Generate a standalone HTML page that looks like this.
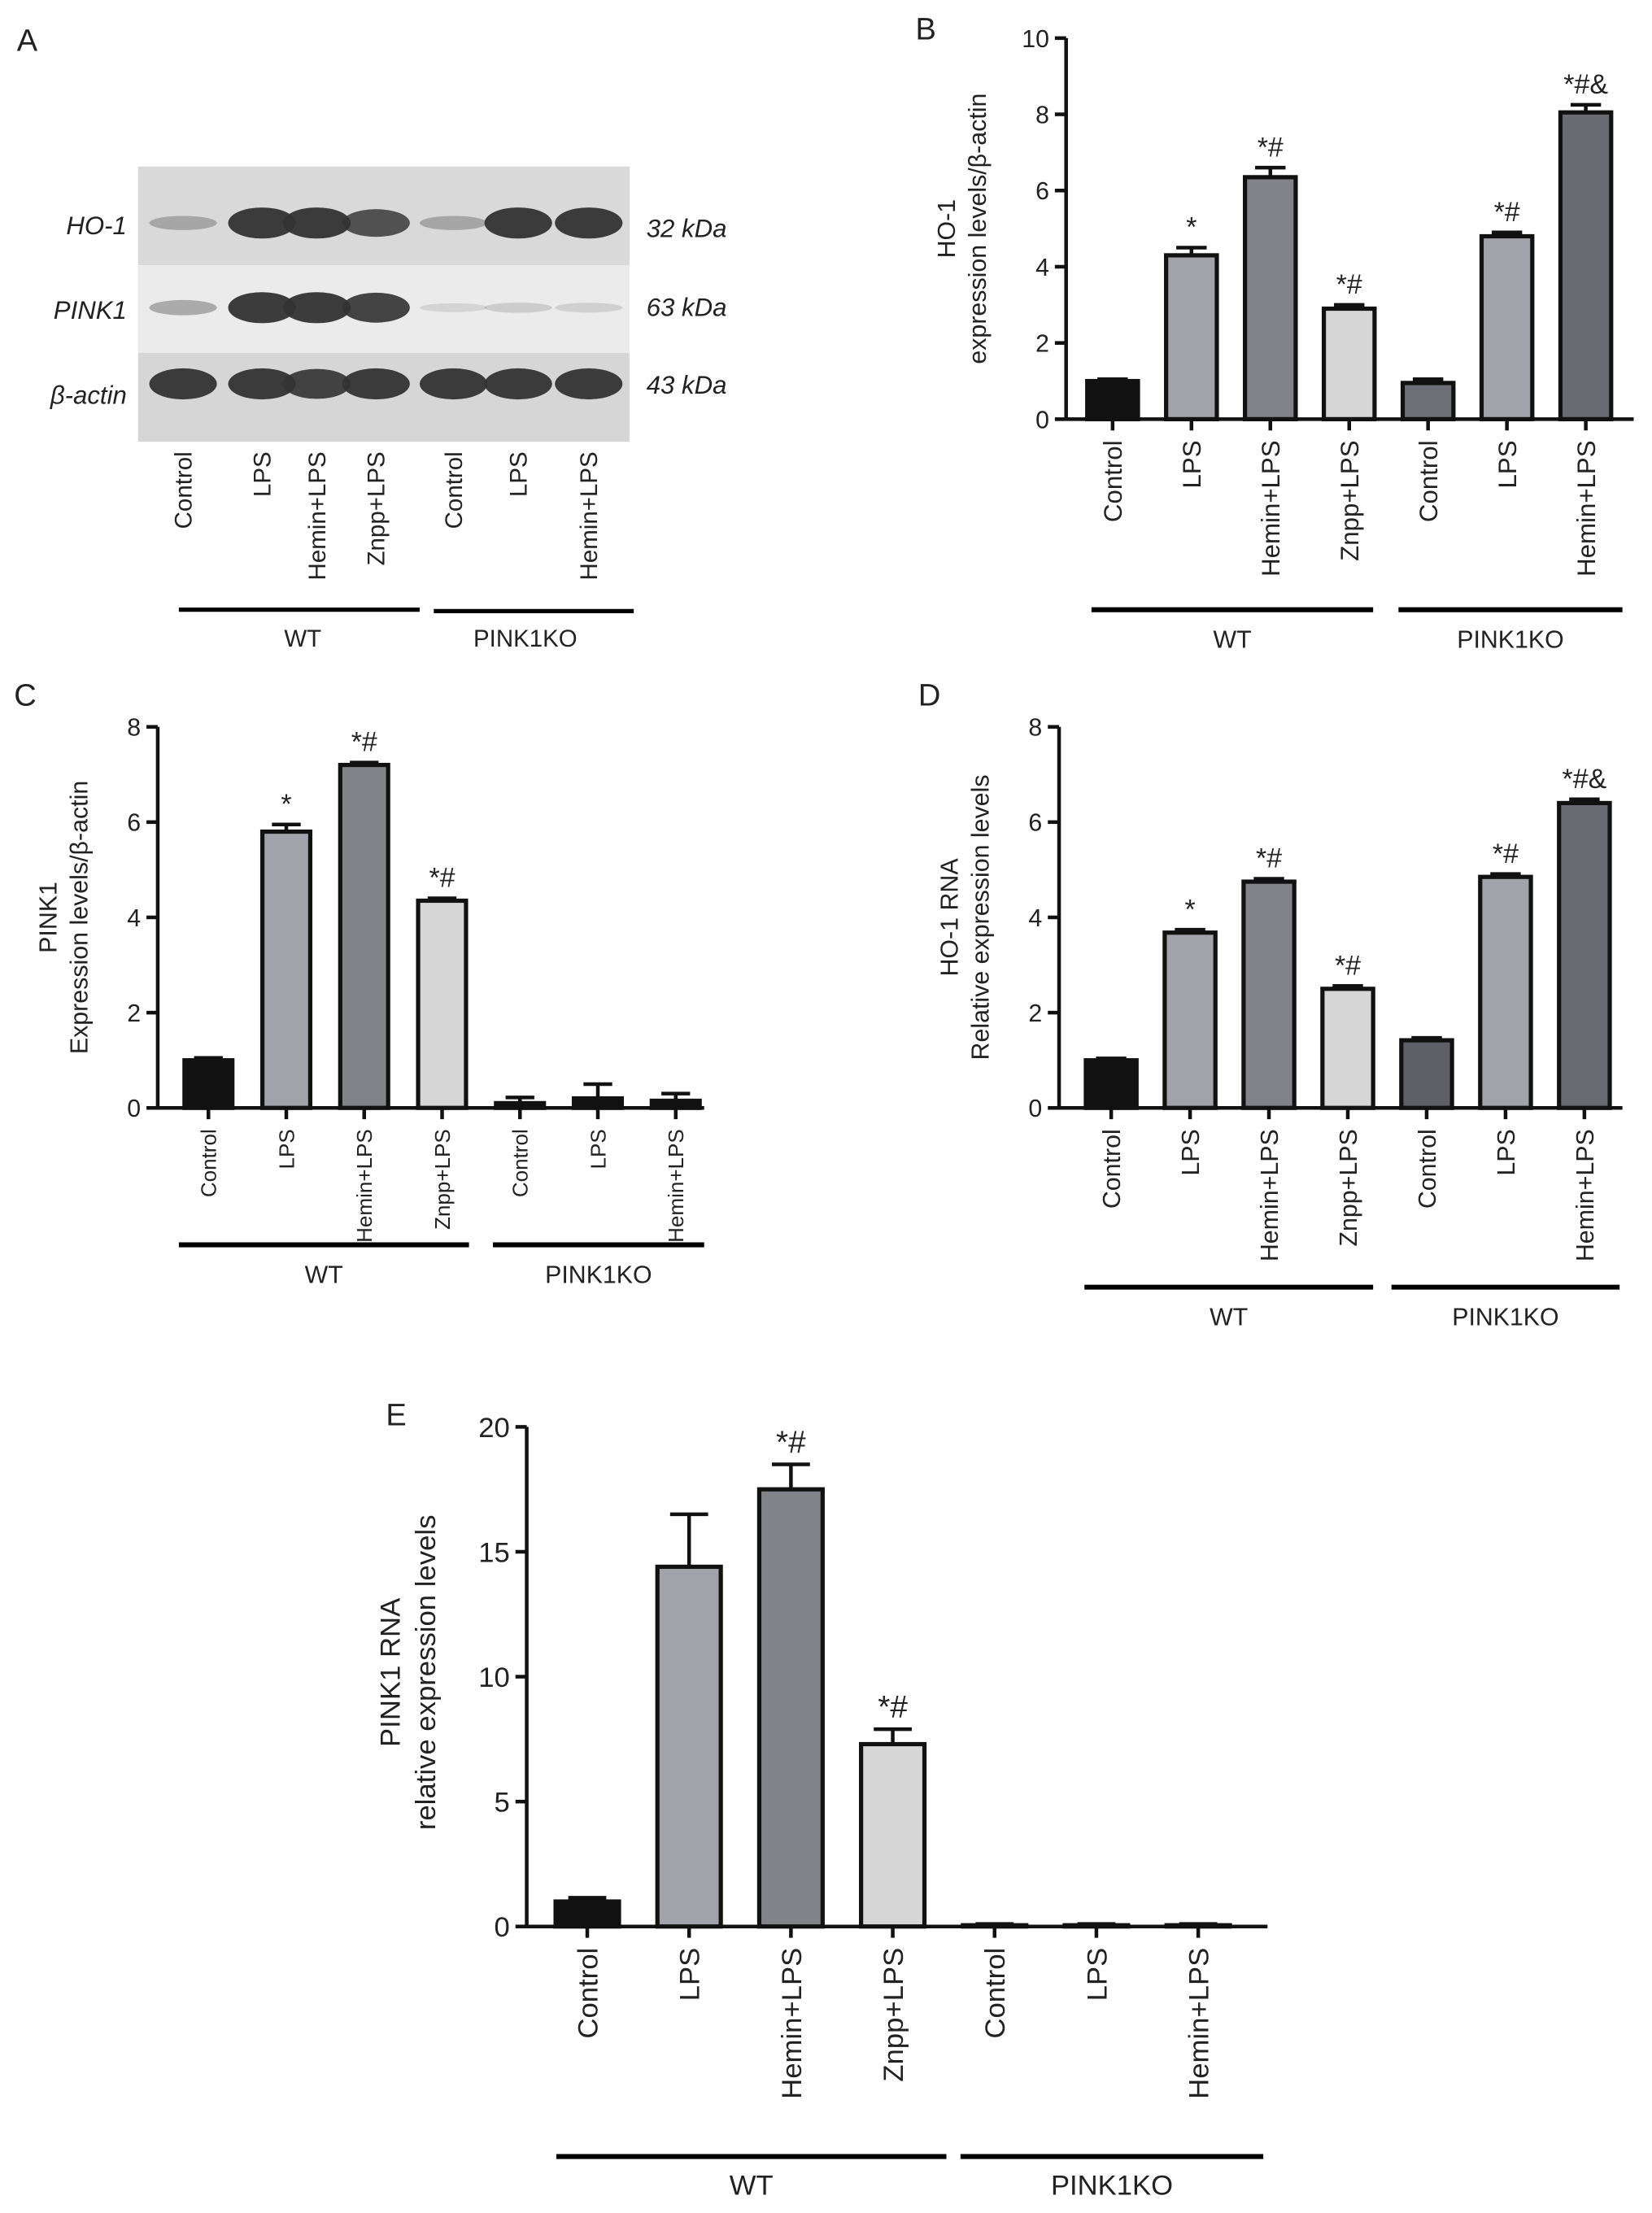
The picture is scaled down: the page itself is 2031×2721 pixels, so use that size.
<!DOCTYPE html>
<html><head><meta charset="utf-8">
<style>html,body{margin:0;padding:0;background:#fff;}svg{display:block;}text{font-family:"Liberation Sans",Arial,sans-serif;fill:#222;}</style>
</head><body>
<svg id="fig" width="2031" height="2721" viewBox="0 0 1173 1568" preserveAspectRatio="none" xmlns="http://www.w3.org/2000/svg">
<g id="panelA">
<text x="12" y="36" font-size="22">A</text>
<rect x="98" y="118" width="349" height="70" fill="#d9d9d9"/>
<rect x="98" y="188" width="349" height="62" fill="#ebebeb"/>
<rect x="98" y="250" width="349" height="63" fill="#d6d6d6"/>
<text x="90" y="166" font-size="18" font-style="italic" text-anchor="end">HO-1</text>
<text x="90" y="226" font-size="18" font-style="italic" text-anchor="end">PINK1</text>
<text x="90" y="286" font-size="18" font-style="italic" text-anchor="end">β-actin</text>
<text x="459" y="168" font-size="18" font-style="italic">32 kDa</text>
<text x="459" y="224" font-size="18" font-style="italic">63 kDa</text>
<text x="459" y="279" font-size="18" font-style="italic">43 kDa</text>
<g id="bands"></g>
<g id="laneLabels"></g>
<line x1="127" y1="432" x2="298" y2="432" stroke="#000" stroke-width="3"/>
<line x1="308" y1="433" x2="450" y2="433" stroke="#000" stroke-width="3"/>
<text x="215" y="458" font-size="17" text-anchor="middle">WT</text>
<text x="373" y="458" font-size="17" text-anchor="middle">PINK1KO</text>
</g>
<g id="charts"></g>
</svg>
<script>
const NS="http://www.w3.org/2000/svg";
const categories=["Control","LPS","Hemin+LPS","Znpp+LPS","Control","LPS","Hemin+LPS"];
const catsA=["Control","LPS","Hemin+LPS","Znpp+LPS","Control","LPS","Hemin+LPS"];
// Panel B
const valuesB=[1.0,4.3,6.35,2.9,0.95,4.8,8.05];
const errorsB=[0.05,0.2,0.25,0.1,0.1,0.1,0.2];
const annotB=["","*","*#","*#","","*#","*#&"];
const ticksB=[0,2,4,6,8,10];
// Panel C
const valuesC=[1.0,5.8,7.2,4.35,0.1,0.2,0.15];
const errorsC=[0.05,0.15,0.05,0.05,0.12,0.3,0.15];
const annotC=["","*","*#","*#","","",""];
const ticksC=[0,2,4,6,8];
// Panel D
const valuesD=[1.0,3.68,4.75,2.5,1.42,4.85,6.4];
const errorsD=[0.04,0.06,0.06,0.06,0.05,0.06,0.08];
const annotD=["","*","*#","*#","","*#","*#&"];
const ticksD=[0,2,4,6,8];
// Panel E
const valuesE=[1.0,14.4,17.5,7.3,0.05,0.05,0.05];
const errorsE=[0.15,2.1,1.0,0.6,0.05,0.05,0.05];
const annotE=["","","*#","*#","","",""];
const ticksE=[0,5,10,15,20];
// Blot band intensities (0-1)
const bandHO1=[0.25,1,1,0.85,0.25,1,1];
const bandPINK1=[0.3,1,1,0.95,0.02,0.08,0.06];
const bandActin=[1,1,0.95,1,1,1,1];

function el(tag,attrs,parent){const e=document.createElementNS(NS,tag);for(const k in attrs)e.setAttribute(k,attrs[k]);parent.appendChild(e);return e;}

const bands=document.getElementById('bands');
const laneX=[130,186,225,267,322,368,418];
[[bandHO1,158,'ho1'],[bandPINK1,218,'pink1'],[bandActin,272,'actin']].forEach(([arr,y,nm])=>{
 arr.forEach((v,i)=>{
  const b=el('ellipse',{cx:laneX[i],cy:y,rx:24,ry:3+v*8,fill:'#333',opacity:(0.1+v*0.85).toFixed(2)},bands);
  
  
 });
});
const ll=document.getElementById('laneLabels');
catsA.forEach((c,i)=>{
 const t=el('text',{x:0,y:0,'font-size':17,'text-anchor':'end',transform:`translate(${laneX[i]+6},320) rotate(-90)`},ll);
 t.textContent=c;
 
 
});

const colors=["#111","#a2a2aa","#828289","#d6d6d6","#6e6e76","#a2a2aa","#6a6a72"];
const colorsC=["#111","#a2a2aa","#828289","#d6d6d6","#111","#111","#111"];
const colorsD=["#111","#a2a2aa","#828289","#d6d6d6","#5f5f67","#a2a2aa","#6a6a72"];

function panel(cfg){
 const g=el('g',{},document.getElementById('charts'));
 
 
 const fs=cfg.fs, lfs=cfg.lfs||fs;
 const ys=v=>cfg.y0-(v-0)/(cfg.max)*(cfg.y0-cfg.yTop);
 const xs=i=>cfg.x0+i*cfg.step;
 const lab=el('text',{x:cfg.lx,y:cfg.ly,'font-size':22},g);lab.textContent=cfg.id.toUpperCase();
 
 
 const ya=el('line',{x1:cfg.ax,y1:cfg.yTop,x2:cfg.ax,y2:cfg.y0,stroke:'#111','stroke-width':2.6},g);
 
 
 const xa=el('line',{x1:cfg.ax,y1:cfg.y0,x2:cfg.axEnd,y2:cfg.y0,stroke:'#111','stroke-width':2.6},g);
 
 
 cfg.ticks.forEach(t=>{
  el('line',{x1:cfg.ax-8,y1:ys(t),x2:cfg.ax,y2:ys(t),stroke:'#111','stroke-width':2.6},g);
  const tl=el('text',{x:cfg.ax-12,y:ys(t)+fs*0.36,'font-size':fs,'text-anchor':'end'},g);
  tl.textContent=t;
  
  
 });
 const tt=el('text',{x:0,y:0,'font-size':fs,'text-anchor':'middle',transform:`translate(${cfg.tx},${cfg.ty}) rotate(-90)`},g);
 tt.textContent=cfg.t1;
 
 
 const tt2=el('text',{x:0,y:0,'font-size':fs,'text-anchor':'middle',transform:`translate(${cfg.tx+cfg.tgap},${cfg.ty}) rotate(-90)`},g);
 tt2.textContent=cfg.t2;
 
 
 cfg.vals.forEach((v,i)=>{
  const x=xs(i),w=cfg.bw;
  const eTop=ys(v+cfg.errs[i]);
  el('line',{x1:x,y1:ys(v),x2:x,y2:eTop,stroke:'#111','stroke-width':2.6},g);
  el('line',{x1:x-w*0.3,y1:eTop,x2:x+w*0.3,y2:eTop,stroke:'#111','stroke-width':2.6},g);
  const b=el('rect',{x:x-w/2,y:ys(v),width:w,height:Math.max(0,cfg.y0-ys(v)),fill:cfg.colors[i],stroke:'#111','stroke-width':3},g);
  
  
  el('line',{x1:x,y1:cfg.y0,x2:x,y2:cfg.y0+8,stroke:'#111','stroke-width':2.6},g);
  if(cfg.ann[i]){const a=el('text',{x:x,y:eTop-8,'font-size':fs*1.12,'text-anchor':'middle'},g);a.textContent=cfg.ann[i];
   
   }
  const cl=el('text',{x:0,y:0,'font-size':lfs,'text-anchor':'end',transform:`translate(${x+lfs*0.36},${cfg.y0+15}) rotate(-90)`},g);
  cl.textContent=categories[i];
  
  
 });
 const gl=cfg.gl;
 el('line',{x1:gl[0],y1:gl[4],x2:gl[1],y2:gl[4],stroke:'#000','stroke-width':3.5},g);
 el('line',{x1:gl[2],y1:gl[4],x2:gl[3],y2:gl[4],stroke:'#000','stroke-width':3.5},g);
 const w1=el('text',{x:(gl[0]+gl[1])/2,y:gl[4]+27,'font-size':fs,'text-anchor':'middle'},g);w1.textContent='WT';
 
 
 const w2=el('text',{x:(gl[2]+gl[3])/2,y:gl[4]+27,'font-size':fs,'text-anchor':'middle'},g);w2.textContent='PINK1KO';
 
 
}
panel({id:'b',lx:650,ly:28,ax:757,axEnd:1160,y0:297,yTop:27,max:10,ticks:ticksB,x0:790,step:56,bw:36,vals:valuesB,errs:errorsB,ann:annotB,colors:colors,fs:17.5,lfs:18,tx:678,ty:162,tgap:22,t1:'HO-1',t2:'expression levels/β-actin',gl:[775,975,993,1152,432]});
panel({id:'c',lx:10,ly:500,ax:112,axEnd:500,y0:785,yTop:515,max:8,ticks:ticksC,x0:148,step:55.3,bw:34,vals:valuesC,errs:errorsC,ann:annotC,colors:colorsC,fs:17.5,lfs:15,tx:40,ty:650,tgap:22,t1:'PINK1',t2:'Expression levels/β-actin',gl:[127,333,350,500,882]});
panel({id:'d',lx:652,ly:500,ax:752,axEnd:1152,y0:785,yTop:515,max:8,ticks:ticksD,x0:789,step:56,bw:36,vals:valuesD,errs:errorsD,ann:annotD,colors:colorsD,fs:17.5,lfs:17.5,tx:680,ty:650,tgap:22,t1:'HO-1 RNA',t2:'Relative expression levels',gl:[770,975,988,1150,912]});
panel({id:'e',lx:274,ly:1010,ax:374,axEnd:900,y0:1365,yTop:1011,max:20,ticks:ticksE,x0:417,step:72.3,bw:45,vals:valuesE,errs:errorsE,ann:annotE,colors:colors,fs:20,lfs:20,tx:284,ty:1185,tgap:25,t1:'PINK1 RNA',t2:'relative expression levels',gl:[395,672,682,897,1528]});
</script>
</body></html>
